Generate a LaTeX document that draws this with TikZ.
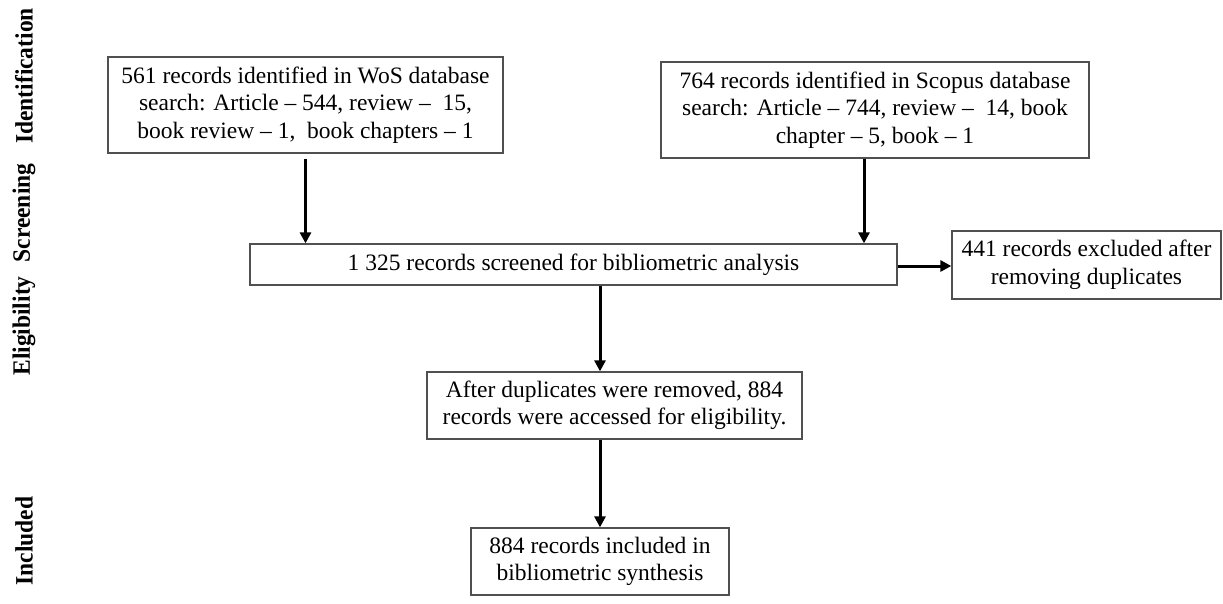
\documentclass[tikz,border=0pt]{standalone}
\usepackage{fontspec}
\setmainfont{Liberation Serif}
\usetikzlibrary{arrows.meta}
\definecolor{boxgray}{HTML}{505050}
\tikzset{
  box/.style={draw=boxgray, line width=1.3pt, fill=white, align=center, inner sep=4pt,
              font=\fontsize{23.5}{27.5}\selectfont},
  arr/.style={line width=3pt, -{Triangle[width=11pt,length=11pt]}},
  phase/.style={rotate=90, font=\bfseries\fontsize{25}{28}\selectfont, inner sep=0pt}
}
\begin{document}
\begin{tikzpicture}[x=1pt,y=-1pt]
\useasboundingbox (0,0) rectangle (1223,604);
% phase labels
\node[phase] (lid) at (24,76) {\scalebox{0.94}[1]{Identification}};
\node[phase] (lsc) at (24,213) {\scalebox{0.94}[1]{Screening}};
\node[phase] (lel) at (24,326) {\scalebox{0.94}[1]{Eligibility}};
\node[phase] (lin) at (24,541) {\scalebox{0.94}[1]{Included}};
% boxes
\node[box, minimum width=395pt, minimum height=96pt] (wos) at (305.5,105)
  {561 records identified in WoS database\\search: Article -- 544, review -- \ 15,\\book review -- 1, \ book chapters -- 1};
\node[box, minimum width=428pt, minimum height=96pt] (scopus) at (875,110)
  {764 records identified in Scopus database\\search: Article -- 744, review -- \ 14, book\\chapter -- 5, book -- 1};
\node[box, minimum width=647pt, minimum height=41pt] (screen) at (573.5,264.5)
  {1 325 records screened for bibliometric analysis};
\node[box, minimum width=269pt, minimum height=68pt] (excl) at (1086.5,265)
  {441 records excluded after\\removing duplicates};
\node[box, minimum width=375pt, minimum height=67pt] (elig) at (614.5,405.5)
  {After duplicates were removed, 884\\records were accessed for eligibility.};
\node[box, minimum width=258pt, minimum height=67pt] (incl) at (600,561.5)
  {884 records included in\\bibliometric synthesis};
% arrows
\coordinate (wosout) at ([yshift=-5pt]wos.south);
\draw[arr] (wosout) -- (wosout |- screen.north);
\coordinate (scout) at ([xshift=-11pt]scopus.south);
\draw[arr] (scout) -- (scout |- screen.north);
\draw[arr] ([yshift=-1.5pt]screen.east) -- ([yshift=-1.5pt]screen.east -| excl.west);
\coordinate (scrout) at (screen.south -| incl.north);
\draw[arr] (scrout) -- (scrout |- elig.north);
\draw[arr] (elig.south -| incl.north) -- (incl.north);
\end{tikzpicture}
\end{document}
